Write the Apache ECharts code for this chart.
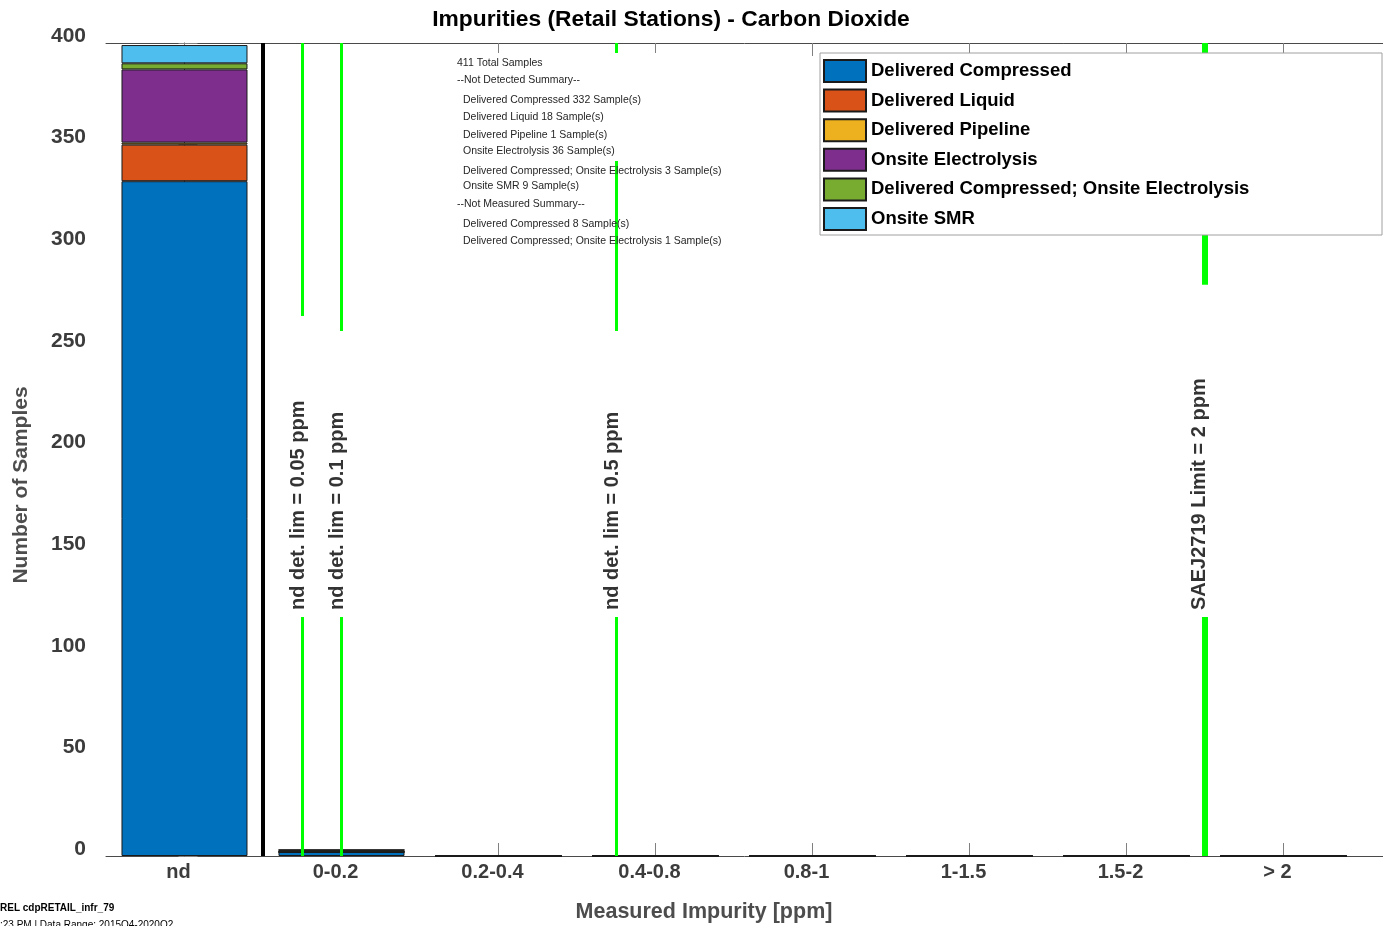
<!DOCTYPE html>
<html>
<head>
<meta charset="utf-8">
<script src="https://cdn.jsdelivr.net/npm/echarts@6/dist/echarts.min.js"></script>
<style>
  html, body { margin: 0; padding: 0; background: #fff; }
  #chart-wrapper { width: 1383px; height: 926px; }
</style>
</head>
<body>
<div id="chart-wrapper"></div>
<script>
// bins on the x axis
const categories = ["nd", "0-0.2", "0.2-0.4", "0.4-0.8", "0.8-1", "1-1.5", "1.5-2", "> 2"];
const binEdges = [null, [0, 0.2], [0.2, 0.4], [0.4, 0.8], [0.8, 1], [1, 1.5], [1.5, 2], null];

// sample counts per bin, one array per station type
const seriesNames = [
  "Delivered Compressed",
  "Delivered Liquid",
  "Delivered Pipeline",
  "Onsite Electrolysis",
  "Delivered Compressed; Onsite Electrolysis",
  "Onsite SMR",
];
const deliveredCompressed = [332, 2, 0, 0, 0, 0, 0, 0];
const deliveredLiquid = [18, 0, 0, 0, 0, 0, 0, 0];
const deliveredPipeline = [1, 0, 0, 0, 0, 0, 0, 0];
const onsiteElectrolysis = [36, 0, 0, 0, 0, 0, 0, 0];
const compressedElectrolysis = [3, 1, 0, 0, 0, 0, 0, 0];
const onsiteSMR = [9, 0, 0, 0, 0, 0, 0, 0];
const seriesValues = [
  deliveredCompressed,
  deliveredLiquid,
  deliveredPipeline,
  onsiteElectrolysis,
  compressedElectrolysis,
  onsiteSMR,
];

// reference lines (ppm) and their labels
const refPpm = [0.05, 0.1, 0.5, 2];
const refLabels = [
  "nd det. lim = 0.05 ppm",
  "nd det. lim = 0.1 ppm",
  "nd det. lim = 0.5 ppm",
  "SAEJ2719 Limit = 2 ppm",
];

// summary text
const summaryLines = [
  ["411 Total Samples", 0],
  ["--Not Detected Summary--", 0],
  ["Delivered Compressed 332 Sample(s)", 1],
  ["Delivered Liquid 18 Sample(s)", 1],
  ["Delivered Pipeline 1 Sample(s)", 1],
  ["Onsite Electrolysis 36 Sample(s)", 1],
  ["Delivered Compressed; Onsite Electrolysis 3 Sample(s)", 1],
  ["Onsite SMR 9 Sample(s)", 1],
  ["--Not Measured Summary--", 0],
  ["Delivered Compressed 8 Sample(s)", 1],
  ["Delivered Compressed; Onsite Electrolysis 1 Sample(s)", 1],
];

const yMax = 400;
const yStep = 50;

////////////// styles
const FONT = "'Liberation Sans', Arial, Helvetica, sans-serif";
const colors = ["#0072BD", "#D95319", "#EDB120", "#7E2F8E", "#77AC30", "#4DBEEE"];
const summaryY = [63, 80, 100, 117, 135, 151, 171, 186, 204, 224, 241];
// line width + gap (in y units) that the label cuts out of each line
const refStyle = [
  { width: 3, gapLow: 117.6, gapHigh: 265.7, dx: -4 },
  { width: 3, gapLow: 117.6, gapHigh: 258.3, dx: -4 },
  { width: 3, gapLow: 117.6, gapHigh: 258.3, dx: -4 },
  { width: 6, gapLow: 117.6, gapHigh: 281, dx: -5 },
];
const labelBottom = 121;

// map a ppm value onto the bin axis
const ppmToPos = (p) => {
  for (let i = 0; i < binEdges.length; i++) {
    const e = binEdges[i];
    if (e && p >= e[0] && p <= e[1]) return i - 0.5 + (p - e[0]) / (e[1] - e[0]);
  }
  return null;
};

const chartDom = document.getElementById("chart-wrapper");
const chart = echarts.init(chartDom, null, { renderer: "canvas" });

const tickIdx = categories.map((c, i) => i);
const xMin = -0.5;
const xMax = 7.634; // axes box runs past the right edge of the figure

// value first so the stack runs on y
const barSeries = seriesNames.map((name, k) => ({
  name: name,
  type: "bar",
  stack: "total",
  barWidth: 126,
  xAxisIndex: 0,
  yAxisIndex: 0,
  encode: { x: 1, y: 0 },
  data: seriesValues[k].map((v, i) => [v, i]),
  itemStyle: { color: colors[k], borderColor: "#1a1a1a", borderWidth: 1 },
  emphasis: { disabled: true },
  animation: false,
}));

const refPos = refPpm.map(ppmToPos);
const markData = [];
refPos.forEach((x, i) => {
  const st = refStyle[i];
  const ls = { color: "#00ff00", width: st.width, type: "solid" };
  markData.push([{ coord: [x, 0], lineStyle: ls }, { coord: [x, st.gapLow] }]);
  markData.push([{ coord: [x, st.gapHigh], lineStyle: ls }, { coord: [x, yMax] }]);
});
markData.push({ xAxis: 0.5, lineStyle: { color: "#000", width: 4, type: "solid" } });

const labelSeries = {
  name: "refs",
  type: "scatter",
  xAxisIndex: 0,
  yAxisIndex: 0,
  symbolSize: 0,
  z: 2,
  silent: true,
  animation: false,
  data: refPos.map((x, i) => ({
    value: [x, labelBottom],
    label: {
      show: true,
      formatter: refLabels[i],
      position: "inside",
      rotate: 90,
      align: "left",
      verticalAlign: "middle",
      offset: [0, refStyle[i].dx],
      fontFamily: FONT,
      fontSize: 20,
      fontWeight: "bold",
      color: "#000",
    },
  })),
  markLine: {
    silent: true,
    symbol: ["none", "none"],
    label: { show: false },
    animation: false,
    data: markData,
  },
};

const axisLineStyle = { color: "#4a4a4a", width: 1 };
const tickStyle = { color: "#808080", width: 1 };

const option = {
  backgroundColor: "#fff",
  animation: false,
  title: {
    text: "Impurities (Retail Stations) - Carbon Dioxide",
    left: 666,
    top: 3,
    textAlign: "center",
    textStyle: { fontFamily: FONT, fontSize: 22.8, fontWeight: "bold", color: "#000" },
  },
  grid: { left: 106, right: 0, top: 43, height: 813, containLabel: false },
  xAxis: [
    {
      type: "value",
      position: "bottom",
      min: xMin,
      max: xMax,
      splitLine: { show: false },
      axisLine: { show: true, onZero: false, lineStyle: axisLineStyle },
      axisTick: { show: true, inside: true, length: 13, customValues: tickIdx, lineStyle: tickStyle },
      axisLabel: {
        customValues: tickIdx,
        formatter: (v) => categories[Math.round(v)],
        margin: 6,
        padding: [0, 12, 0, 0],
        fontFamily: FONT,
        fontSize: 20,
        fontWeight: "bold",
        color: "#3c3c3c",
      },
    },
    {
      type: "value",
      position: "top",
      min: xMin,
      max: xMax,
      splitLine: { show: false },
      axisLine: { show: true, onZero: false, lineStyle: axisLineStyle },
      axisTick: { show: true, inside: true, length: 13, customValues: tickIdx, lineStyle: tickStyle },
      axisLabel: { show: false },
    },
  ],
  yAxis: [
    {
      type: "value",
      position: "left",
      min: 0,
      max: yMax,
      interval: yStep,
      splitLine: { show: false },
      axisLine: { show: true, lineStyle: axisLineStyle },
      axisTick: { show: true, inside: true, length: 13, lineStyle: tickStyle },
      axisLabel: {
        margin: 20,
        verticalAlign: "bottom",
        lineHeight: 14,
        fontFamily: FONT,
        fontSize: 21,
        fontWeight: "bold",
        color: "#3c3c3c",
      },
    },
    {
      type: "value",
      position: "right",
      min: 0,
      max: yMax,
      interval: yStep,
      splitLine: { show: false },
      axisLine: { show: false },
      axisTick: { show: true, inside: true, length: 6, lineStyle: tickStyle },
      axisLabel: { show: false },
    },
  ],
  legend: {
    data: seriesNames,
    orient: "vertical",
    left: 823,
    top: 59,
    padding: 0,
    itemWidth: 42,
    itemHeight: 22,
    itemGap: 5.6,
    icon: "rect",
    selectedMode: false,
    z: 8,
    textStyle: {
      fontFamily: FONT,
      fontSize: 18.5,
      fontWeight: "bold",
      color: "#000",
      lineHeight: 20,
    },
  },
  graphic: [
    {
      type: "rect",
      z: 6,
      silent: true,
      shape: { x: 820, y: 53, width: 562, height: 182 },
      style: { fill: "#fff", stroke: "#a0a0a0", lineWidth: 1 },
    },
    {
      type: "rect",
      z: 6,
      silent: true,
      shape: { x: 455, y: 53, width: 265, height: 108 },
      style: { fill: "#fff" },
    },
    ...summaryLines.map((l, i) => ({
      type: "text",
      z: 7,
      silent: true,
      x: l[1] ? 463 : 457,
      y: summaryY[i],
      style: {
        text: l[0],
        fontFamily: FONT,
        fontSize: 10.5,
        fill: "#262626",
        verticalAlign: "middle",
      },
    })),
    {
      type: "text",
      silent: true,
      x: 21,
      y: 485,
      rotation: Math.PI / 2,
      style: {
        text: "Number of Samples",
        fontFamily: FONT,
        fontSize: 21,
        fontWeight: "bold",
        fill: "#4d4d4d",
        align: "center",
        verticalAlign: "middle",
      },
    },
    {
      type: "text",
      silent: true,
      x: 704,
      y: 912,
      style: {
        text: "Measured Impurity [ppm]",
        fontFamily: FONT,
        fontSize: 21.5,
        fontWeight: "bold",
        fill: "#4d4d4d",
        align: "center",
        verticalAlign: "middle",
      },
    },
    {
      type: "text",
      silent: true,
      x: 0,
      y: 908,
      style: {
        text: "REL cdpRETAIL_infr_79",
        fontFamily: FONT,
        fontSize: 10,
        fontWeight: "bold",
        fill: "#000",
        verticalAlign: "middle",
      },
    },
    {
      type: "text",
      silent: true,
      x: 0,
      y: 925,
      style: {
        text: ":23 PM | Data Range: 2015Q4-2020Q2",
        fontFamily: FONT,
        fontSize: 10,
        fill: "#000",
        verticalAlign: "middle",
      },
    },
  ],
  series: [...barSeries, labelSeries],
};

chart.setOption(option);
</script>
</body>
</html>
